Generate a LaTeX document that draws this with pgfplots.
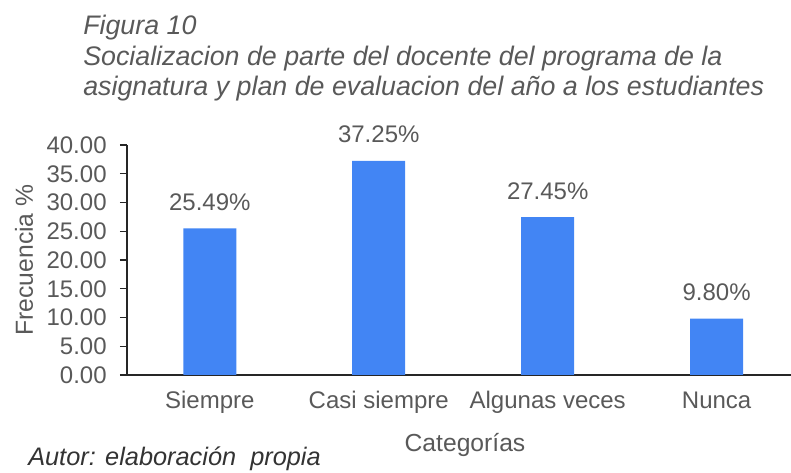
\documentclass[border=0pt]{standalone}
\usepackage{pgfplots}
\pgfplotsset{compat=1.18}
\usepackage{fontspec}
\setmainfont{Liberation Sans}
\definecolor{barblue}{RGB}{66,133,244}
\definecolor{txt}{RGB}{89,89,89}
\begin{document}
\begin{tikzpicture}
\begin{axis}[
    at={(0pt,0pt)}, anchor=south west,
    scale only axis, width=498pt, height=172.5pt,
    ybar, bar width=39.75pt,
    xmin=-0.49, xmax=3.44, ymin=0, ymax=40,
    clip=false,
    axis x line*=bottom, axis y line*=left,
    axis line style={-, black!85, line width=1pt},
    xtick={0,1,2,3},
    xticklabels={Siempre, Casi siempre, Algunas veces, Nunca},
    x tick style={draw=none},
    ytick={0,5,...,40},
    tick align=outside,
    major tick length=5.25pt,
    y tick style={black!85, line width=0.8pt},
    yticklabel style={xshift=-6.5pt, /pgf/number format/.cd, fixed, fixed zerofill, precision=2, assume math mode=true},
    ticklabel style={font=\fontsize{18}{21}\selectfont, text=txt},
    xticklabel style={anchor=base, yshift=-20pt},
    nodes near coords={\pgfmathprintnumber[fixed, fixed zerofill, precision=2, assume math mode=true]{\pgfplotspointmeta}\%},
    every node near coord/.append style={anchor=base, yshift=13.5pt, font=\fontsize{18}{21}\selectfont, text=txt},
]
\addplot[fill=barblue, draw=none] coordinates {(0,25.49) (1,37.25) (2,27.45) (3,9.80)};
\end{axis}
\begin{scope}[font=\fontsize{20.1}{23}\selectfont\itshape, text=txt]
\node[anchor=base west, inner sep=0] at (-33pt,255pt) {Figura 10};
\node[anchor=base west, inner sep=0] at (-33pt,231.75pt) {Socializacion de parte del docente del programa de la};
\node[anchor=base west, inner sep=0] at (-33pt,209.25pt) {asignatura y plan de evaluacion del año a los estudiantes};
\end{scope}
\node[anchor=base, inner sep=0, font=\fontsize{18.5}{21}\selectfont, text=txt] at (253.5pt,-57.75pt) {Categorías};
\node[anchor=base, inner sep=0, rotate=90, font=\fontsize{18.5}{21}\selectfont, text=txt] at (-70.5pt,86.25pt) {Frecuencia \%};
\node[anchor=base west, inner sep=0, font=\fontsize{19}{22}\selectfont\itshape, text=black!80] at (-74.25pt,-68.25pt) {Autor: elaboración\ \ propia};
\pgfresetboundingbox
\path (-95.25pt,-73.5pt) rectangle (498pt,281.25pt);
\end{tikzpicture}
\end{document}
